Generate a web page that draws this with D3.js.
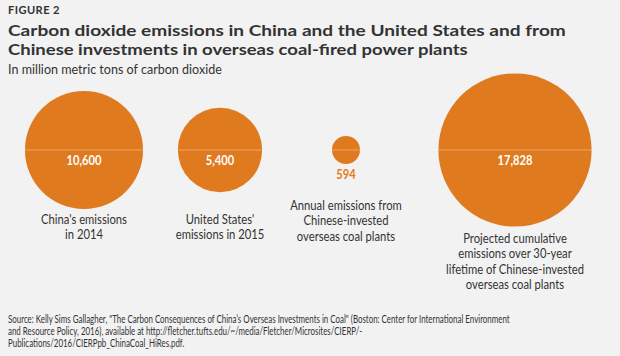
<!DOCTYPE html>
<html><head><meta charset="utf-8">
<script src="https://cdn.jsdelivr.net/npm/d3@7"></script>
<style>
html,body{margin:0;padding:0;background:#f2f2f2;}
svg{display:block;}
text{font-family:Lato,"Open Sans",sans-serif;}
</style></head>
<body><svg id="chart" width="620" height="356"></svg>
<script>
const categories = ["China", "United States", "Chinese-invested plants (annual)", "Chinese-invested plants (30-year)"];
const values = [10600, 5400, 594, 17828];
const valueLabels = ["10,600", "5,400", "594", "17,828"];
const categoryLabels = [
  ["China's emissions", "in 2014"],
  ["United States'", "emissions in 2015"],
  ["Annual emissions from", "Chinese-invested", "overseas coal plants"],
  ["Projected cumulative", "emissions over 30-year", "lifetime of Chinese-invested", "overseas coal plants"]
];
const figureLabel = "FIGURE 2";
const titleLines = ["Carbon dioxide emissions in China and the United States and from",
                    "Chinese investments in overseas coal-fired power plants"];
const subtitle = "In million metric tons of carbon dioxide";
const sourceLines = [
  "Source: Kelly Sims Gallagher, \"The Carbon Consequences of China\u2019s Overseas Investments in Coal\" (Boston: Center for International Environment",
  "and Resource Policy, 2016), available at http://fletcher.tufts.edu/~/media/Fletcher/Microsites/CIERP/-",
  "Publications/2016/CIERPpb_ChinaCoal_HiRes.pdf."
];

const W = 620, H = 356;
const svg = d3.select("#chart");
const orange = "#e07a1f", dark = "#333333";

// text placed at (x,y) and condensed horizontally by factor k via transform
function addText(parent, x, y, str, attrs) {
  const t = parent.append("text").attr("x", 0).attr("y", 0).text(str);
  Object.entries(attrs).forEach(([a, v]) => t.attr(a, v));
  t.attr("transform", `translate(${x},${y})`);
  return t;
}
function condense(t, x, y, k) {
  t.attr("transform", `translate(${x},${y}) scale(${k},1)`);
}
function widthOf(t) { return t.node().getComputedTextLength() || 1; }

// header
const fl = addText(svg, 8, 14, figureLabel, {"font-size": 10.5, "font-weight": 700, fill: dark, "letter-spacing": 0.4});
condense(fl, 8, 14, 52 / widthOf(fl));
const t1 = addText(svg, 8, 35.5, titleLines[0], {"font-size": 16, "font-weight": 700, fill: dark});
condense(t1, 8, 35.5, 558 / widthOf(t1));
const t2 = addText(svg, 8, 55, titleLines[1], {"font-size": 16, "font-weight": 700, fill: dark});
condense(t2, 8, 55, 460 / widthOf(t2));
const st = addText(svg, 8, 74, subtitle, {"font-size": 12.5, fill: dark});
condense(st, 8, 74, 214 / widthOf(st));

// scales
const xPos = [84, 220, 346, 515];
const r = d3.scaleSqrt().domain([0, d3.max(values)]).range([0, 76.6]);
const cy = 150;

svg.append("g").selectAll("circle").data(values).join("circle")
  .attr("cx", (d, i) => xPos[i]).attr("cy", cy).attr("r", d => r(d)).attr("fill", orange);

svg.append("line").attr("x1", 11).attr("x2", 610).attr("y1", cy).attr("y2", cy)
  .attr("stroke", "#ffffff").attr("stroke-opacity", 0.32).attr("stroke-width", 1.2);

// value labels
let kv = null;
values.forEach((v, i) => {
  const inside = r(v) > 25;
  const y = inside ? cy + 15 : cy + r(v) + 15.5;
  const t = addText(svg, xPos[i], y, valueLabels[i], {"text-anchor": "middle", "font-size": 13.5, "font-weight": 700, fill: inside ? "#ffffff" : orange});
  if (kv === null) kv = 35 / widthOf(t);
  condense(t, xPos[i], y, kv);
});

// category labels
const labelTop = [223.5, 223.5, 209.5, 242.5];
let kl = null;
categoryLabels.forEach((lines, i) => {
  lines.forEach((l, j) => {
    const y = labelTop[i] + j * 15.6;
    const t = addText(svg, xPos[i], y, l, {"text-anchor": "middle", "font-size": 13.5, fill: dark});
    if (kl === null) kl = 86 / widthOf(t);
    condense(t, xPos[i], y, kl);
  });
});

// source
let ks = null;
sourceLines.forEach((l, j) => {
  const y = 322.5 + j * 12.2;
  const s = addText(svg, 8, y, l, {"font-size": 10.5, fill: dark});
  if (ks === null) ks = 502 / widthOf(s);
  condense(s, 8, y, ks);
});
</script></body></html>
